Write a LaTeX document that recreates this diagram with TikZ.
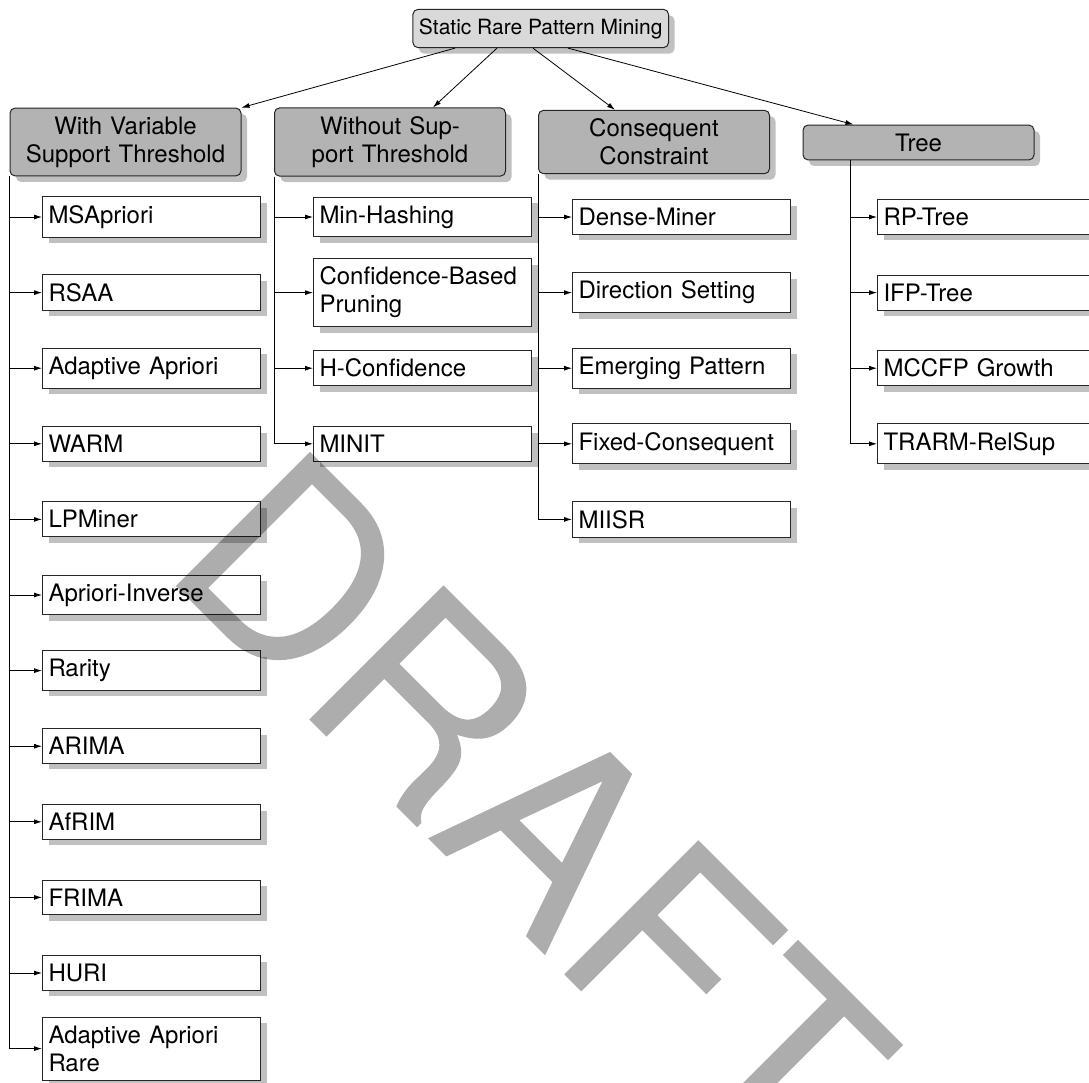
\documentclass[tikz,border=0pt]{standalone}
\usepackage{fontspec}
\setmainfont{TeX Gyre Heros}
\usetikzlibrary{shadows,arrows.meta,calc}
\definecolor{rootfill}{HTML}{D9D9D9}
\definecolor{catfill}{HTML}{B3B3B3}
\definecolor{shadowgray}{HTML}{C0C0C0}
\definecolor{wmgray}{HTML}{ADADAD}
\begin{document}
\begin{tikzpicture}[x=1pt,y=-1pt,
  font=\fontsize{24}{28}\selectfont,
  shadowed/.style={drop shadow={shadow xshift=6pt,shadow yshift=-6pt,fill=shadowgray,opacity=1,draw=none}},
  rootbox/.style={draw=black!85, line width=1pt, rounded corners=5pt, fill=rootfill, shadowed, inner xsep=6pt, inner ysep=9pt, font=\fontsize{21}{25}\selectfont},
  catbox/.style={draw=black!85, line width=1pt, rounded corners=5pt, fill=catfill, shadowed, text width=219pt, align=center, inner xsep=6pt, inner ysep=8.5pt},
  leafbox/.style={draw=black!85, line width=1pt, fill=white, shadowed, text width=206pt, align=left, inner xsep=6pt, inner ysep=8.5pt, anchor=west},
  conn/.style={line width=0.8pt, -{Latex[length=8pt,width=5pt]}},
]
\useasboundingbox (0,0) rectangle (1089,1082);
\clip (0,0) rectangle (1089,1082);

% root
\node[rootbox, anchor=east] (root) at (669,28.5) {Static Rare Pattern Mining};

% categories
\node[catbox] (cat1) at (125.5,142) {With Variable\\Support Threshold};
\node[catbox] (cat2) at (390,142) {Without Sup-\\port Threshold};
\node[catbox] (cat3) at (654,142) {Consequent\\Constraint};
\node[catbox] (cat4) at (918.5,142.5) {Tree};

% column 1
\node[leafbox] (a1) at (42,217) {MSApriori};
\node[leafbox] (a2) at (42,292.6) {RSAA};
\node[leafbox] (a3) at (42,368.2) {Adaptive Apriori};
\node[leafbox] (a4) at (42,443.8) {WARM};
\node[leafbox] (a5) at (42,519.4) {LPMiner};
\node[leafbox] (a6) at (42,595) {Apriori-Inverse};
\node[leafbox] (a7) at (42,670.6) {Rarity};
\node[leafbox] (a8) at (42,746.2) {ARIMA};
\node[leafbox] (a9) at (42,821.8) {AfRIM};
\node[leafbox] (a10) at (42,897.4) {FRIMA};
\node[leafbox] (a11) at (42,973) {HURI};
\node[leafbox] (a12) at (42,1048.6) {Adaptive Apriori\\Rare};

% column 2
\node[leafbox] (b1) at (313,217) {Min-Hashing};
\node[leafbox] (b2) at (313,292.6) {Confidence-Based\\Pruning};
\node[leafbox] (b3) at (313,368.2) {H-Confidence};
\node[leafbox] (b4) at (313,443.8) {MINIT};

% column 3
\node[leafbox] (c1) at (572,217) {Dense-Miner};
\node[leafbox] (c2) at (572,292.6) {Direction Setting};
\node[leafbox] (c3) at (572,368.2) {Emerging Pattern};
\node[leafbox] (c4) at (572,443.8) {Fixed-Consequent};
\node[leafbox] (c5) at (572,519.4) {MIISR};

% column 4
\node[leafbox] (d1) at (877,217) {RP-Tree};
\node[leafbox] (d2) at (877,292.6) {IFP-Tree};
\node[leafbox] (d3) at (877,368.2) {MCCFP Growth};
\node[leafbox] (d4) at (877,443.8) {TRARM-RelSup};

% root to categories
\draw[conn] ([xshift=-214pt]root.south east) -- (cat1.north east);
\draw[conn] ([xshift=-172pt]root.south east) -- ([xshift=43pt]cat2.north);
\draw[conn] ([xshift=-136pt]root.south east) -- ([xshift=-39pt]cat3.north);
\draw[conn] ([xshift=-101pt]root.south east) -- ([xshift=-65pt]cat4.north);

% trunks
\coordinate (t1) at (cat1.south west);
\coordinate (t2) at (cat2.south west);
\coordinate (t3) at (cat3.south west);
\coordinate (t4) at ([xshift=48pt]cat4.south west);

\foreach \n in {a1,a2,a3,a4,a5,a6,a7,a8,a9,a10,a11,a12}
  \draw[conn] (t1) |- (\n.west);
\foreach \n in {b1,b2,b3,b4}
  \draw[conn] (t2) |- (\n.west);
\foreach \n in {c1,c2,c3,c4,c5}
  \draw[conn] (t3) |- (\n.west);
\foreach \n in {d1,d2,d3,d4}
  \draw[conn] (t4) |- (\n.west);

% watermark
\node[rotate=-45, text=wmgray, font=\fontsize{260}{260}\selectfont, inner sep=0pt, blend mode=multiply] (wm) at (533,809) {\special{pdf:literal direct 2 Tr 10 w 1 1 1 RG}DRAFT\special{pdf:literal direct 0 Tr}};
\end{tikzpicture}
\end{document}
